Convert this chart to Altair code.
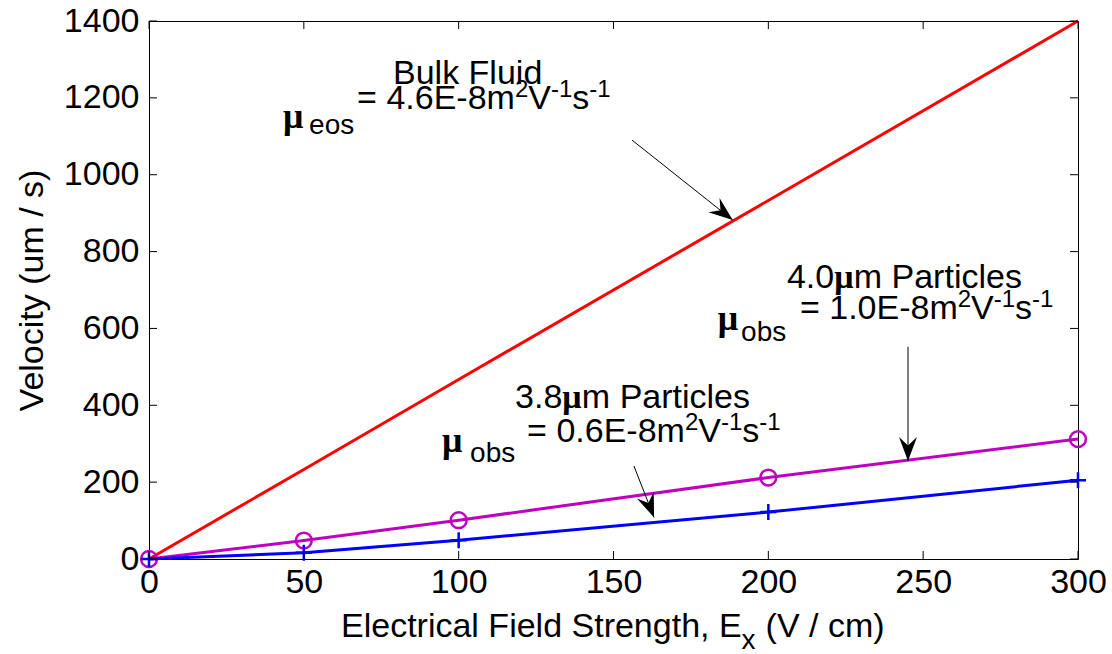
import math
import altair as alt
import pandas as pd

# ---------------- data ----------------
field_strength = [0, 50, 100, 200, 300]          # V/cm
bulk_fluid = [0, 233, 467, 933, 1400]            # um/s
particles_40 = [0, 48, 101, 212, 312]            # um/s (4.0 um particles)
particles_38 = [0, 16, 49, 122, 205]             # um/s (3.8 um particles)

x_ticks = [0, 50, 100, 150, 200, 250, 300]
y_ticks = [0, 200, 400, 600, 800, 1000, 1200, 1400]

# annotation arrows in data units: start -> tip
arrow_x0 = [156.0, 245.1, 156.6]
arrow_y0 = [1090, 552, 242]
arrow_x1 = [188.5, 245.1, 163.1]
arrow_y1 = [882, 255, 108]

# annotation text anchors (data units)
annotations = [
    dict(title=[("Bulk Fluid", "n")], tx=78.8, ty=1236,
         mu=(43.3, 1121.5), sub=("eos", 51.7, 1106),
         main="= 4.6E-8m", mx=67.2, my=1171),
    dict(title=[("4.0", "n"), ("\u03bc", "mu"), ("m Particles", "n")], tx=206.0, ty=705,
         mu=(183.7, 596), sub=("obs", 191.2, 567),
         main="= 1.0E-8m", mx=210.2, my=624.5),
    dict(title=[("3.8", "n"), ("\u03bc", "mu"), ("m Particles", "n")], tx=118.2, ty=393,
         mu=(94.6, 278), sub=("obs", 103.7, 252),
         main="= 0.6E-8m", mx=122.1, my=304.5),
]
xtitle_x, xtitle_y = 62.0, -203

# ---------------- layout helpers ----------------
W, H = 929, 538
X_DOM = [0, 300]
Y_DOM = [0, 1400]
PX_X = (X_DOM[1] - X_DOM[0]) / W
PX_Y = (Y_DOM[1] - Y_DOM[0]) / H
FONT = "Liberation Sans"
SERIF = "Liberation Serif"
FS = 34

ARIAL = {' ': 278, '=': 584, '-': 333, '.': 278, 'E': 667, 'm': 833, 'V': 667, 's': 500,
         'o': 556, 'b': 556, 'e': 556, 'P': 667, 'a': 556, 'r': 333, 't': 278, 'i': 222,
         'c': 500, 'l': 222, 'B': 667, 'u': 556, 'k': 500, 'F': 611, 'd': 556, 'x': 500,
         '(': 333, ')': 333, '/': 278, 'S': 667, 'n': 556, 'g': 556, 'h': 556, ',': 278}


def tw(s, size, mu=False):
    if mu:
        return 0.576 * size * len(s)
    return sum(ARIAL.get(c, 556) for c in s) / 1000 * size


STYLES = {"n": (FS, 0, "sans"), "sup": (24, 12, "sans"), "mu": (FS, 0, "mu"),
          "xsub": (28, -12, "sans")}

sans_rows, mu_rows = [], []


def put(text, x, y, size, kind="sans"):
    row = dict(t=text, x=x, y=y, fs=size)
    (mu_rows if kind == "mu" else sans_rows).append(row)


def chain(segments, x0, y0):
    x = x0
    for text, style in segments:
        if text is None:
            x += style * PX_X
            continue
        size, rise, kind = STYLES[style]
        put(text, x, y0 + rise * PX_Y, size, kind)
        x += tw(text, size, kind == "mu") * PX_X


for a in annotations:
    chain(a["title"], a["tx"], a["ty"])
    put("\u03bc", a["mu"][0], a["mu"][1], 36, "mu")
    put(a["sub"][0], a["sub"][1], a["sub"][2], 28)
    chain([(a["main"], "n"), ("2", "sup"), ("V", "n"), ("-1", "sup"),
           ("s", "n"), ("-1", "sup")], a["mx"], a["my"])

chain([("Electrical Field Strength, E", "n"), ("x", "xsub"), (None, 10), ("(V / cm)", "n")],
      xtitle_x, xtitle_y)

# ---------------- frames ----------------
df = pd.DataFrame({"E": field_strength, "bulk": bulk_fluid,
                   "p40": particles_40, "p38": particles_38})
df_xt = pd.DataFrame({"v": x_ticks})
df_yt = pd.DataFrame({"v": y_ticks})
arrows = []
for x0, y0, x1, y1 in zip(arrow_x0, arrow_y0, arrow_x1, arrow_y1):
    dxp = (x1 - x0) / PX_X
    dyp = -(y1 - y0) / PX_Y
    ang = math.degrees(math.atan2(-dxp, dyp)) % 360
    arrows.append(dict(x0=x0, y0=y0, x1=x1, y1=y1, ang=ang))
df_arr = pd.DataFrame(arrows)
df_sans = pd.DataFrame(sans_rows)
df_mu = pd.DataFrame(mu_rows)

XS = alt.Scale(domain=X_DOM, nice=False, zero=False)
YS = alt.Scale(domain=Y_DOM, nice=False, zero=False)
XAX = alt.Axis(values=x_ticks, format="d", ticks=False, domain=False, grid=False,
               labelFont=FONT, labelFontSize=FS, labelColor="black", labelPadding=6,
               labelFlush=False, labelOverlap=False, title=None)
YAX = alt.Axis(values=y_ticks, format="d", ticks=False, domain=False, grid=False,
               labelFont=FONT, labelFontSize=FS, labelColor="black", labelPadding=10,
               labelFlush=False, labelOverlap=False, title="Velocity (um / s)",
               titleFont=FONT, titleFontSize=FS, titleFontWeight="normal",
               titleColor="black", titlePadding=14)


def X(f):
    return alt.X(f, type="quantitative", scale=XS, axis=XAX)


def Y(f):
    return alt.Y(f, type="quantitative", scale=YS, axis=YAX)


base = alt.Chart(df)
red = base.mark_line(color="#ff0000", strokeWidth=3).encode(x=X("E"), y=Y("bulk"))
mag = base.mark_line(color="#bf00bf", strokeWidth=3).encode(x=X("E"), y=Y("p40"))
mag_pts = base.mark_point(shape="circle", filled=False, color="#bf00bf", size=250,
                          strokeWidth=2.5, opacity=1).encode(x=X("E"), y=Y("p40"))
blue = base.mark_line(color="#0000ff", strokeWidth=3).encode(x=X("E"), y=Y("p38"))
blue_pts = base.mark_point(shape="M-1,0L1,0M0,-1L0,1", filled=False, color="#0000ff",
                           size=256, strokeWidth=2.5, opacity=1).encode(x=X("E"), y=Y("p38"))

TL = 8
tick_l = alt.Chart(df_yt).mark_rule(color="black", strokeWidth=1).encode(
    y=Y("v"), x=alt.value(0), x2=alt.value(TL))
tick_r = alt.Chart(df_yt).mark_rule(color="black", strokeWidth=1).encode(
    y=Y("v"), x=alt.value(W - TL), x2=alt.value(W))
tick_b = alt.Chart(df_xt).mark_rule(color="black", strokeWidth=1).encode(
    x=X("v"), y=alt.value(H - TL), y2=alt.value(H))
tick_t = alt.Chart(df_xt).mark_rule(color="black", strokeWidth=1).encode(
    x=X("v"), y=alt.value(0), y2=alt.value(TL))

shafts = alt.Chart(df_arr).mark_rule(color="black", strokeWidth=1).encode(
    x=X("x0"), y=Y("y0"), x2="x1:Q", y2="y1:Q")
ARROW = "M0,0L-0.75,-2L0,-1.3L0.75,-2Z"
heads = alt.Chart(df_arr).mark_point(shape=ARROW, filled=True, color="black", size=576,
                                     opacity=1, strokeWidth=0).encode(
    x=X("x1"), y=Y("y1"), angle=alt.Angle("ang:Q", scale=None))

txt = alt.Chart(df_sans).mark_text(align="left", baseline="alphabetic", font=FONT,
                                   color="black").encode(
    x=X("x"), y=Y("y"), size=alt.Size("fs:Q", scale=None, legend=None), text="t:N")
mu_txt = alt.Chart(df_mu).mark_text(align="left", baseline="alphabetic", font=SERIF,
                                    fontWeight="bold", color="black").encode(
    x=X("x"), y=Y("y"), size=alt.Size("fs:Q", scale=None, legend=None), text="t:N")

chart = alt.layer(
    red, mag, mag_pts, blue, blue_pts, tick_l, tick_r, tick_b, tick_t,
    shafts, heads, txt, mu_txt
).properties(
    width=W, height=H,
    autosize=alt.AutoSizeParams(type="none"),
    padding={"left": 149, "top": 21, "right": 34, "bottom": 95},
    background="white",
).configure_view(stroke="black", strokeWidth=1)

chart.save("out.html", embed_options={"renderer": "svg", "actions": False})
